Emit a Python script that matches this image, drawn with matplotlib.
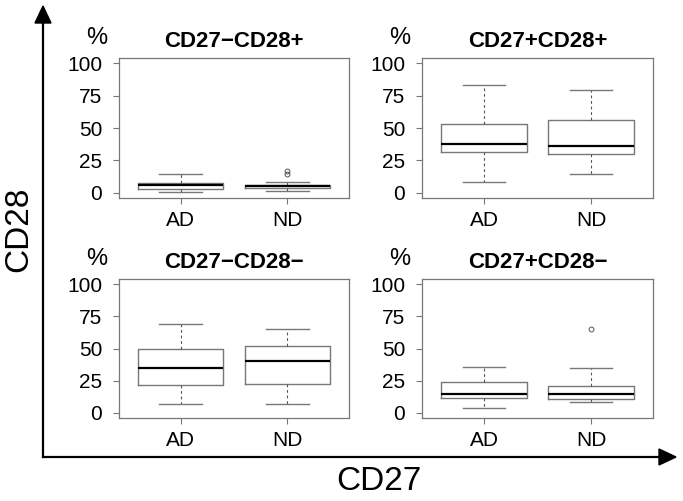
import matplotlib
matplotlib.use("Agg")
import matplotlib.pyplot as plt
from matplotlib.patches import Polygon
from matplotlib.lines import Line2D

plt.rcParams['font.family'] = ['Liberation Sans', 'DejaVu Sans']

groups = ["AD", "ND"]
titles = ["CD27\u2212CD28+", "CD27+CD28+", "CD27\u2212CD28\u2212", "CD27+CD28\u2212"]
yticks = [0, 25, 50, 75, 100]

# per panel: [AD, ND]
whislo = [[0.5, 1.5], [8.0, 14.2], [6.7, 6.9], [3.9, 8.5]]
q1 = [[2.8, 3.4], [31.4, 29.6], [22.0, 22.3], [11.4, 10.9]]
med = [[5.7, 5.0], [38.0, 36.0], [34.6, 40.0], [15.0, 14.5]]
q3 = [[7.2, 6.2], [53.0, 56.0], [49.5, 52.0], [23.8, 21.2]]
whishi = [[14.2, 8.5], [83.0, 79.4], [69.2, 65.4], [35.7, 35.1]]
fliers = [[[], [16.5, 14.8]], [[], []], [[], []], [[], [65.4]]]

W, H = 683, 501
fig = plt.figure(figsize=(W / 100, H / 100), dpi=100)

# panel boxes in pixel coords: (left, top, right, bottom)
boxes = [(119, 58, 349, 198), (422, 58, 653, 198),
         (119, 279, 349, 418), (422, 279, 653, 418)]

gray = "#777777"
for i, (l, t, r, b) in enumerate(boxes):
    ax = fig.add_axes([l / W, 1 - b / H, (r - l) / W, (b - t) / H])
    stats = []
    for j in range(2):
        stats.append(dict(med=med[i][j], q1=q1[i][j], q3=q3[i][j],
                          whislo=whislo[i][j], whishi=whishi[i][j],
                          fliers=fliers[i][j], label=groups[j]))
    ax.bxp(stats, positions=[1, 2], widths=0.8, capwidths=0.4,
           boxprops=dict(color=gray, lw=1.0),
           medianprops=dict(color="black", lw=1.6),
           whiskerprops=dict(color="#555555", lw=0.8, linestyle=(0, (2.5, 2.5))),
           capprops=dict(color=gray, lw=1.0),
           flierprops=dict(marker="o", markersize=3.5, markerfacecolor="none",
                           markeredgecolor="#555555", markeredgewidth=0.7))
    ax.set_xlim(0.42, 2.58)
    ax.set_ylim(-4, 104)
    ax.set_yticks(yticks)
    ax.set_yticklabels([str(v) for v in yticks])
    ax.set_xticks([1, 2])
    ax.set_xticklabels(groups)
    ax.tick_params(axis="both", labelsize=15, length=4, width=0.8, color=gray, pad=5)
    ax.tick_params(axis="y", pad=8)
    for s in ax.spines.values():
        s.set_color(gray)
        s.set_linewidth(0.9)
    ax.set_title(titles[i], fontsize=16, fontweight="bold", pad=8)
    ax.text(-0.095, 1.145, "%", transform=ax.transAxes, fontsize=17,
            ha="center", va="center")

# overlay for the big arrows
ov = fig.add_axes([0, 0, 1, 1])
ov.set_xlim(0, W)
ov.set_ylim(H, 0)
ov.axis("off")
ov.patch.set_alpha(0)
lw = 1.6
ov.add_line(Line2D([43, 43], [457, 20], color="black", lw=lw))
ov.add_line(Line2D([43, 662], [457, 457], color="black", lw=lw))
ov.add_patch(Polygon([[43, 6], [35, 23], [51, 23]], closed=True, color="black"))
ov.add_patch(Polygon([[676, 457], [659, 449], [659, 465]], closed=True, color="black"))
ov.text(19, 229, "CD28", rotation=90, fontsize=24, ha="center", va="center")
ov.text(379, 482, "CD27", fontsize=24, ha="center", va="center")

fig.savefig("out.png", dpi=100)
